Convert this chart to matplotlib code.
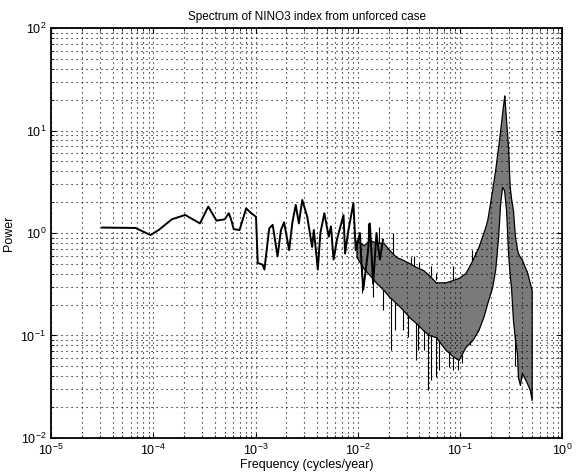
import matplotlib
matplotlib.use('Agg')
import matplotlib.pyplot as plt
import numpy as np

plt.rcParams['font.family'] = ['Liberation Sans', 'DejaVu Sans']
plt.rcParams['mathtext.default'] = 'regular'

# low-frequency part of the spectrum
freq_lo = [3.16e-5, 6.7e-5, 9.4e-5, 1.13e-4, 1.52e-4, 2.05e-4, 2.86e-4, 3.45e-4,
           4.15e-4, 5.0e-4, 5.47e-4, 5.79e-4, 6.11e-4, 6.98e-4, 8.09e-4, 9.06e-4,
           1.01e-3, 1.05e-3, 1.175e-3, 1.22e-3, 1.36e-3, 1.47e-3, 1.64e-3, 1.77e-3,
           1.90e-3, 2.13e-3, 2.29e-3, 2.47e-3, 2.65e-3, 2.86e-3, 3.20e-3, 3.57e-3,
           3.71e-3, 4.06e-3, 4.30e-3, 4.70e-3, 5.19e-3, 5.46e-3, 5.79e-3, 6.24e-3,
           7.24e-3, 7.50e-3, 8.09e-3, 9.04e-3, 9.53e-3, 1.047e-2, 1.089e-2, 1.13e-2,
           1.26e-2, 1.31e-2, 1.41e-2, 1.52e-2, 1.64e-2, 1.76e-2]
power_lo = [1.13, 1.12, 0.955, 1.07, 1.36, 1.5, 1.24, 1.81,
            1.32, 1.36, 1.56, 1.34, 1.09, 1.07, 1.74, 1.56,
            1.44, 0.51, 0.49, 0.44, 1.11, 1.2, 0.59, 1.07,
            1.27, 0.68, 1.27, 1.88, 1.24, 2.1, 1.44, 0.73,
            1.07, 0.44, 1.0, 1.56, 0.92, 1.16, 0.55, 0.86,
            1.5, 0.63, 1.07, 1.95, 0.68, 1.0, 0.47, 0.28,
            0.68, 1.24, 0.32, 1.0, 0.55, 0.86]

# high-frequency part: envelope of the dense band
freq_band = [0.0097, 0.0114, 0.0130, 0.0152, 0.0178, 0.0203, 0.0237, 0.0277,
             0.0317, 0.0371, 0.0433, 0.0494, 0.0578, 0.0723, 0.0863, 0.0966,
             0.1127, 0.1318, 0.1507, 0.1683, 0.1762, 0.184, 0.2056, 0.2198,
             0.235, 0.246, 0.257, 0.2685, 0.27, 0.281, 0.294, 0.304, 0.314,
             0.328, 0.3436, 0.359, 0.367, 0.384, 0.401, 0.4285, 0.449, 0.48, 0.50]
power_upper = [0.855, 0.76, 0.855, 0.80, 0.80, 0.683, 0.583, 0.546,
               0.509, 0.466, 0.436, 0.39, 0.33, 0.33, 0.35, 0.365,
               0.407, 0.546, 0.73, 1.0, 1.15, 1.34, 2.63, 4.12,
               6.9, 10.0, 14.8, 21.0, 22.0, 12.6, 6.9, 2.94, 2.2,
               1.67, 0.914, 0.7, 0.638, 0.583, 0.55, 0.466, 0.42, 0.325, 0.278]
power_lower = [0.583, 0.45, 0.39, 0.325, 0.278, 0.238, 0.207, 0.177,
               0.151, 0.132, 0.113, 0.101, 0.0966, 0.0723, 0.0617, 0.0577,
               0.0773, 0.0904, 0.113, 0.151, 0.177, 0.207, 0.297, 0.436,
               0.914, 1.96, 2.81, 2.63, 2.5, 1.67, 0.638, 0.4, 0.297,
               0.142, 0.09, 0.0675, 0.0394, 0.0329, 0.043, 0.038, 0.0344, 0.0294, 0.0235]

# spikes sticking out of the band: frequency, base, tip
spike_f = [0.0109, 0.0142, 0.0178, 0.0212, 0.0232, 0.0277, 0.031, 0.0371, 0.0387,
           0.0443, 0.0484, 0.0518, 0.0578, 0.0618, 0.0773, 0.0843, 0.0944, 0.1033,
           0.126, 0.147, 0.3436,
           0.01245, 0.01626, 0.0222, 0.0331, 0.0354, 0.0396, 0.0518, 0.0578,
           0.0843, 0.1318, 0.141]
spike_base = [0.47, 0.36, 0.278, 0.23, 0.21, 0.177, 0.16, 0.132, 0.13,
              0.113, 0.105, 0.10, 0.0966, 0.09, 0.07, 0.063, 0.058, 0.065,
              0.088, 0.11, 0.1,
              0.8, 0.8, 0.63, 0.5, 0.48, 0.45, 0.38, 0.35,
              0.35, 0.55, 0.6]
spike_tip = [0.26, 0.238, 0.177, 0.0723, 0.113, 0.113, 0.0966, 0.0577, 0.0723,
             0.0723, 0.0294, 0.0368, 0.0394, 0.046, 0.0493, 0.046, 0.046, 0.054,
             0.08, 0.113, 0.05,
             1.24, 1.15, 1.0, 0.583, 0.6, 0.52, 0.48, 0.41,
             0.48, 0.68, 0.65]

fig = plt.figure(figsize=(5.76, 4.73), dpi=100)
ax = fig.add_axes([0.0885, 0.074, 0.888, 0.8668])

ax.plot(freq_lo, power_lo, color='k', lw=1.4)
ax.fill_between(freq_band, power_lower, power_upper, facecolor='#7a7a7a',
                edgecolor='k', lw=0.9)
ax.vlines(spike_f, spike_base, spike_tip, color='k', lw=0.8)

ax.set_xscale('log')
ax.set_yscale('log')
ax.set_xlim(1e-5, 1e0)
ax.set_ylim(1e-2, 1e2)
ax.grid(True, which='both', linestyle=(0, (1, 3.5)), color='k', lw=0.8)
ax.tick_params(which='both', direction='in', top=True, right=True, labelsize=9)
for s in ax.spines.values():
    s.set_linewidth(1.3)

ax.set_title('Spectrum of NINO3 index from unforced case', fontsize=8.5)
ax.set_xlabel('Frequency (cycles/year)', fontsize=9, labelpad=1)
ax.set_ylabel('Power', fontsize=9)

fig.savefig('out.png', dpi=100)
